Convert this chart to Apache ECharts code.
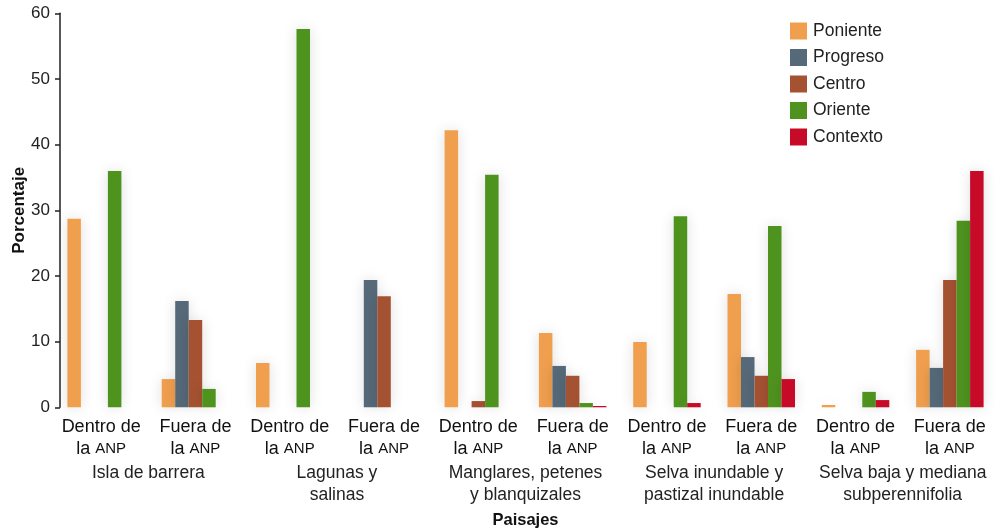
<!DOCTYPE html>
<html>
<head>
<meta charset="utf-8">
<script src="https://cdn.jsdelivr.net/npm/echarts@6/dist/echarts.min.js"></script>
<style>
html,body{margin:0;padding:0;background:#fff;}
#chart{width:1005px;height:530px;}
</style>
</head>
<body>
<div id="chart"></div>
<script>
const categories = ['Dentro de la ANP','Fuera de la ANP','Dentro de la ANP','Fuera de la ANP','Dentro de la ANP','Fuera de la ANP','Dentro de la ANP','Fuera de la ANP','Dentro de la ANP','Fuera de la ANP'];
const landscapes = ['Isla de barrera','Lagunas y\nsalinas','Manglares, petenes\ny blanquizales','Selva inundable y\npastizal inundable','Selva baja y mediana\nsubperennifolia'];
const seriesNames = ['Poniente','Progreso','Centro','Oriente','Contexto'];
const poniente = [28.7, 4.3, 6.75, null, 42.2, 11.3, 9.95, 17.25, 0.35, 8.75];
const progreso = [null, 16.2, null, 19.4, null, 6.3, null, 7.65, null, 6.0];
const centro   = [null, 13.3, null, 16.9, 0.95, 4.8, null, 4.8, null, 19.4];
const oriente  = [36.0, 2.8, 57.6, null, 35.4, 0.65, 29.1, 27.6, 2.35, 28.4];
const contexto = [null, null, null, null, null, 0.2, 0.65, 4.3, 1.1, 36.0];
const yTicks = [0, 10, 20, 30, 40, 50, 60];
const colors = ['#F09F4E','#566978','#A55232','#4F931F','#C70A28'];

const font = 'Liberation Sans, Arial, Helvetica, sans-serif';
const chart = echarts.init(document.getElementById('chart'));
const values = [poniente, progreso, centro, oriente, contexto];
chart.setOption({
  animation: false,
  textStyle: { fontFamily: font },
  grid: { left: 54, right: 8, top: 13.3, bottom: 122.7, containLabel: false, outerBoundsMode: 'none' },
  legend: {
    orient: 'vertical', left: 785, top: 17,
    itemWidth: 17, itemHeight: 17, itemGap: 8.5,
    icon: 'rect',
    textStyle: { fontSize: 17.5, color: '#222', fontFamily: font, padding: [0,0,0,1] },
    data: seriesNames
  },
  xAxis: [{
    type: 'category', data: categories,
    axisLine: { show: false }, axisTick: { show: false },
    axisLabel: {
      margin: 9, interval: 0, color: '#111', lineHeight: 21.5,
      formatter: function (v) {
        const first = v.startsWith('Dentro') ? 'Dentro de' : 'Fuera de';
        return '{a|' + first + '}\n{a|la }{b|ANP}';
      },
      rich: {
        a: { fontSize: 18, lineHeight: 21.5, color: '#111', fontFamily: font },
        b: { fontSize: 15, lineHeight: 21.5, color: '#111', fontFamily: font }
      }
    },
    name: 'Paisajes', nameLocation: 'middle', nameGap: 105, nameMoveOverlap: false,
    nameTextStyle: { fontSize: 16.5, fontWeight: 'bold', color: '#111', fontFamily: font }
  }, {
    type: 'category', data: landscapes, position: 'bottom', offset: 49,
    axisLine: { show: false }, axisTick: { show: false },
    axisLabel: { margin: 6, interval: 0, fontSize: 17.5, lineHeight: 22, color: '#222', fontFamily: font }
  }],
  yAxis: {
    type: 'value', min: 0, max: 60, interval: 10, offset: -6,
    axisLine: { show: true, lineStyle: { color: '#222', width: 1.5 } },
    axisTick: { show: true, length: 5, lineStyle: { color: '#222', width: 1.5 } },
    splitLine: { show: false },
    axisLabel: {
      fontSize: 17, color: '#222', margin: 10,
      formatter: function (v) { return yTicks.indexOf(v) >= 0 ? String(v) : ''; }
    },
    name: 'Porcentaje', nameLocation: 'middle', nameGap: 32, nameMoveOverlap: false,
    nameTextStyle: { fontSize: 17, fontWeight: 'bold', color: '#111', fontFamily: font }
  },
  series: seriesNames.map(function (n, i) {
    return {
      name: n, type: 'bar', xAxisIndex: 0, data: values[i],
      barWidth: 13.5, barGap: '0%',
      itemStyle: { color: colors[i], shadowColor: 'rgba(0,0,0,0.13)', shadowBlur: 14 }
    };
  })
});
</script>
</body>
</html>
